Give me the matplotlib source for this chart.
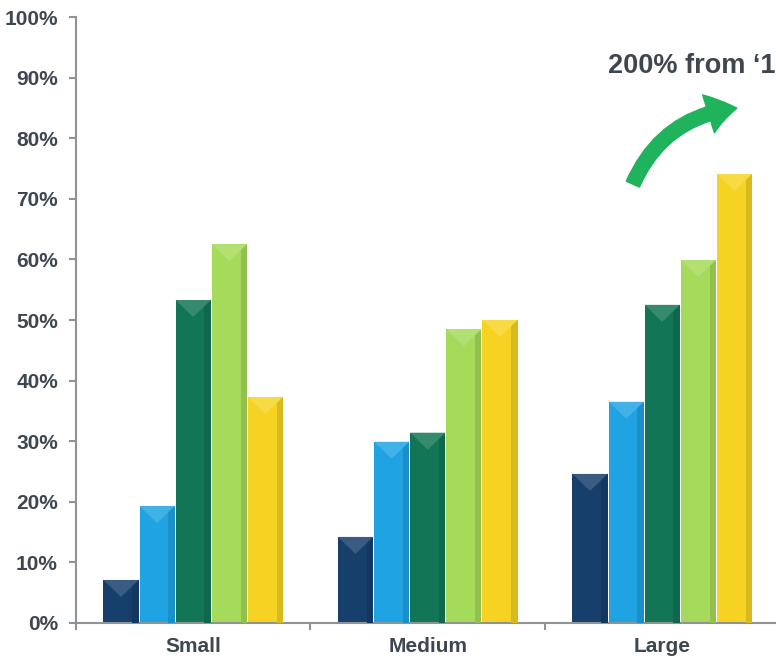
import matplotlib.pyplot as plt
import matplotlib.colors as mcolors
from matplotlib.patches import Polygon, FancyArrowPatch

plt.rcParams['font.family'] = ['Liberation Sans', 'DejaVu Sans']

categories = ['Small', 'Medium', 'Large']
series_1 = [7.1, 14.2, 24.6]
series_2 = [19.3, 29.9, 36.5]
series_3 = [53.3, 31.4, 52.5]
series_4 = [62.5, 48.5, 59.9]
series_5 = [37.3, 50.0, 74.1]
series = [series_1, series_2, series_3, series_4, series_5]
colors = ['#173f6c', '#1fa3e3', '#127656', '#a6da5a', '#f6d323']
yticks = list(range(0, 101, 10))
note = '200% from \u20181'

text_col = '#3e4750'
axis_col = '#8e9398'

fig = plt.figure(figsize=(7.76, 6.60), dpi=100)
ax = fig.add_axes([0.0979, 0.0561, 0.9066, 0.9181])

width = 0.15
step = 0.154
centers = [i + 0.5 for i in range(len(categories))]


def shade(c, f):
    r, g, b = mcolors.to_rgb(c)
    if f > 0:
        return (r + (1 - r) * f, g + (1 - g) * f, b + (1 - b) * f)
    return (r * (1 + f), g * (1 + f), b * (1 + f))


for k, (vals, col) in enumerate(zip(series, colors)):
    xs = [c + (k - 2) * step for c in centers]
    ax.bar(xs, vals, width=width, color=col, zorder=2)
    for x, v in zip(xs, vals):
        l, r = x - width / 2, x + width / 2
        # darker right edge and bevelled top
        ax.add_patch(Polygon([(r - width * 0.18, 0), (r, 0), (r, v), (r - width * 0.18, v)],
                             closed=True, color=shade(col, -0.12), lw=0, zorder=3))
        ax.add_patch(Polygon([(l, v), (r, v), (x, v - 2.8)],
                             closed=True, color=shade(col, 0.15), lw=0, zorder=4))

ax.set_xlim(0, 3)
ax.set_ylim(0, 100)
ax.set_yticks(yticks)
ax.set_yticklabels(['%d%%' % t for t in yticks], fontsize=15, fontweight='bold', color=text_col)
ax.set_xticks([0, 1, 2, 3])
ax.set_xticklabels([])
ax.set_xticks(centers, minor=True)
ax.set_xticklabels(categories, minor=True, fontsize=15, fontweight='bold', color=text_col)
ax.tick_params(axis='x', which='minor', length=0, pad=10)
ax.tick_params(axis='x', which='major', length=5, color=axis_col, width=1.5)
ax.tick_params(axis='y', length=5, color=axis_col, width=1.5, pad=8)

for side in ['top', 'right']:
    ax.spines[side].set_visible(False)
for side in ['left', 'bottom']:
    ax.spines[side].set_color(axis_col)
    ax.spines[side].set_linewidth(1.5)

# growth arrow above the large group
arrow = FancyArrowPatch((2.37, 72.0), (2.83, 85.0),
                        connectionstyle='arc3,rad=-0.3',
                        arrowstyle='simple,head_width=22,head_length=16,tail_width=8',
                        color='#1fb35c', zorder=5, mutation_scale=1.3)
ax.add_patch(arrow)

fig.text(0.783, 0.9, note, fontsize=19.5, fontweight='bold', color=text_col,
         ha='left', va='center')

fig.savefig('out.png', dpi=100)
